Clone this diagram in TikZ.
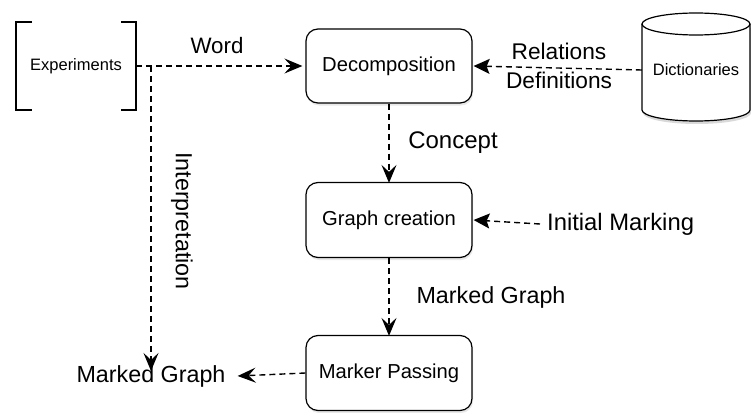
\documentclass[tikz,border=0pt]{standalone}
\usepackage{fontspec}
\setmainfont{Liberation Sans}
\usetikzlibrary{arrows.meta,shadows}
\begin{document}
\begin{tikzpicture}[x=1pt,y=-1pt,
  box/.style={draw,line width=1.2pt,rounded corners=12pt,minimum width=166pt,minimum height=74pt,fill=white,
    drop shadow={opacity=0.18,shadow xshift=1pt,shadow yshift=-2.5pt}},
  flow/.style={line width=1.4pt,dash pattern=on 6pt off 4pt,
    arrows={-Stealth[length=18pt,width=15pt,inset=7pt]}},
  flowb/.style={line width=1.4pt,dash pattern=on 6pt off 4pt,
    arrows={-Stealth[length=16pt,width=15pt,inset=3pt]}},
  lbl/.style={font=\fontsize{23.5}{28}\selectfont,inner sep=2pt},
  blbl/.style={font=\fontsize{20.2}{24}\selectfont},
  slbl/.style={font=\fontsize{16.5}{20}\selectfont}]
\useasboundingbox (0,0) rectangle (751,412);
% Experiments bracket
\node[slbl,minimum width=120pt,minimum height=88pt] (exp) at (76,66) {Experiments};
\draw[line width=1.2pt] (32,22) -- (16,22) -- (16,110) -- (32,110);
\draw[line width=1.2pt] (121,22) -- (136,22) -- (136,110) -- (121,110);
% boxes
\node[box,blbl] (dec) at (389,66) {Decomposition};
\node[box,blbl,minimum height=75pt] (gc) at (389,220) {Graph creation};
\node[box,blbl,minimum height=75pt] (mp) at (389,373) {Marker Passing};
% cylinder
\node[slbl,minimum width=108pt,minimum height=100pt] (dict) at (696,70) {Dictionaries};
\fill[black,opacity=0.15] (643,28) -- (643,113) arc[start angle=180,end angle=360,x radius=54pt,y radius=11pt] -- (751,28) -- cycle;
\draw[line width=1.2pt,fill=white] (642,24) -- (642,110) arc[start angle=180,end angle=360,x radius=54pt,y radius=11pt] -- (750,24);
\draw[line width=1.2pt,fill=white] (696,24) ellipse[x radius=54pt,y radius=11pt];
\node[slbl] at (dict.center) {Dictionaries};
% labels
\node[lbl,font=\fontsize{22.3}{26}\selectfont] (word) at (217,46) {Word};
\node[lbl,align=center,font=\fontsize{22.7}{29}\selectfont] (reldef) at (559,66) {Relations\\Definitions};
\node[lbl,font=\fontsize{24}{28}\selectfont] (concept) at (453,143) {Concept};
\node[lbl,anchor=west,font=\fontsize{23.8}{28}\selectfont] (im) at (545,224) {Initial Marking};
\node[lbl,font=\fontsize{23.3}{28}\selectfont] (mgl) at (491,297) {Marked Graph};
\node[lbl,font=\fontsize{23.3}{28}\selectfont] (mg) at (151,376) {Marked Graph};
\node[lbl,rotate=-90,font=\fontsize{23.3}{28}\selectfont] (interp) at (182,221) {Interpretation};
\coordinate (split) at (151,66);
% connectors
\draw[flow] (exp.east) -- ([xshift=-3pt]dec.west);
\draw[flow] (split) -- ([yshift=-8pt]mg.north);
\draw[flowb] (dict.west) -- ([xshift=1pt]dec.east);
\draw[flow] (dec.south) -- ([yshift=-1pt]gc.north);
\draw[flowb] ([xshift=-5pt]im.west) -- ([xshift=1pt]gc.east);
\draw[flow] (gc.south) -- ([yshift=-1pt]mp.north);
\draw[flow] (mp.west) -- ([xshift=10pt]mg.east);
\end{tikzpicture}
\end{document}
